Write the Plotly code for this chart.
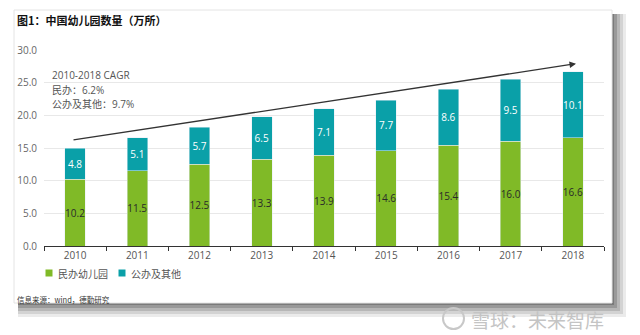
import plotly.graph_objects as go

years = ["2010", "2011", "2012", "2013", "2014", "2015", "2016", "2017", "2018"]
private_vals = [10.2, 11.5, 12.5, 13.3, 13.9, 14.6, 15.4, 16.0, 16.6]
public_vals = [4.8, 5.1, 5.7, 6.5, 7.1, 7.7, 8.6, 9.5, 10.1]
y_ticks = [0, 5, 10, 15, 20, 25, 30]
series_names = ["民办幼儿园", "公办及其他"]
cagr_lines = ["2010-2018 CAGR", "民办：6.2%", "公办及其他：9.7%"]

GREEN = "#80BA27"
TEAL = "#0AA0A8"
FONT = "Open Sans, Noto Sans CJK SC, sans-serif"
CJK = "Noto Sans CJK SC, sans-serif"

fig = go.Figure()
fig.add_trace(go.Bar(
    x=years, y=private_vals, name=series_names[0], marker_color=GREEN,
    text=[f"{v:.1f}" for v in private_vals], textposition="inside",
    insidetextanchor="middle", textangle=0, showlegend=False,
    textfont=dict(color="#2a2a2a", size=10, family=FONT), width=0.33,
))
fig.add_trace(go.Bar(
    x=years, y=public_vals, name=series_names[1], marker_color=TEAL,
    text=[f"{v:.1f}" for v in public_vals], textposition="inside",
    insidetextanchor="middle", textangle=0, showlegend=False,
    textfont=dict(color="white", size=10, family=FONT), width=0.33,
))

def px(x):
    return (x - 44) / 560

def py(y):
    return (246 - y) / 196

shapes = []
# card shadow
for i, op in enumerate([0.08, 0.10, 0.13, 0.16, 0.2]):
    d = 14 - i * 3
    shapes.append(dict(type="rect", xref="paper", yref="paper",
                       x0=px(18), x1=px(612 + d),
                       y0=py(303 + d), y1=py(14),
                       fillcolor=f"rgba(0,0,0,{op})", line_width=0, layer="below"))
shapes.append(dict(type="rect", xref="paper", yref="paper",
                   x0=px(14), x1=px(612),
                   y0=py(303), y1=py(10),
                   fillcolor="white", line=dict(color="#e4e4e4", width=1), layer="below"))
# legend squares
for cx, col in [(49, GREEN), (122, TEAL)]:
    shapes.append(dict(type="rect", xref="paper", yref="paper",
                       x0=px(cx - 3.5), x1=px(cx + 3.5), y0=py(276.5), y1=py(269.5),
                       fillcolor=col, line_width=0))
# watermark logo ring
shapes.append(dict(type="circle", xref="paper", yref="paper",
                   x0=px(443), x1=px(464), y0=py(329), y1=py(308),
                   fillcolor="rgba(0,0,0,0)", line=dict(color="#c8c8c8", width=2)))

fig.update_layout(
    width=640, height=335,
    margin=dict(l=44, r=36, t=50, b=89),
    paper_bgcolor="white", plot_bgcolor="rgba(0,0,0,0)",
    barmode="stack", bargap=0.67,
    font=dict(family=FONT, color="#666666", size=10),
    shapes=shapes,
    xaxis=dict(type="category", showgrid=False, showline=True, linecolor="#333333",
               linewidth=1, ticks="outside", tickson="boundaries", ticklen=4,
               tickcolor="#333333", tickfont=dict(size=10, color="#555555")),
    yaxis=dict(range=[0, 30], tickvals=y_ticks, ticktext=[f"{v:.1f}" for v in y_ticks],
               showgrid=True, gridcolor="#e8e8e8", gridwidth=1, zeroline=False,
               showline=False, tickfont=dict(size=10, color="#666666"), ticklabelstandoff=6),
    showlegend=False,
    uniformtext=dict(minsize=8, mode="show"),
)

annotations = [
    dict(xref="paper", yref="paper", x=px(15), y=py(20),
         xanchor="left", yanchor="middle", showarrow=False,
         text="<b>图1：中国幼儿园数量（万所）</b>",
         font=dict(size=11, color="#111111", family=CJK)),
]
for i, line in enumerate(cagr_lines):
    annotations.append(dict(xref="paper", yref="paper", x=px(50), y=py(75 + i * 14.5),
                            xanchor="left", yanchor="middle", showarrow=False,
                            text=line, font=dict(size=10, color="#555555", family=FONT)))
annotations += [
    dict(xref="paper", yref="paper", x=px(56), y=py(273),
         xanchor="left", yanchor="middle", showarrow=False,
         text=series_names[0], font=dict(size=10, color="#555555", family=CJK)),
    dict(xref="paper", yref="paper", x=px(129), y=py(273),
         xanchor="left", yanchor="middle", showarrow=False,
         text=series_names[1], font=dict(size=10, color="#555555", family=CJK)),
    dict(xref="paper", yref="paper", x=px(15), y=py(299),
         xanchor="left", yanchor="middle", showarrow=False,
         text="信息来源：wind，德勤研究",
         font=dict(size=7.5, color="#333333", family=CJK)),
    dict(xref="paper", yref="paper", x=px(606), y=py(319),
         xanchor="right", yanchor="middle", showarrow=False,
         text="雪球：未来智库",
         font=dict(size=19, color="#c4c4c4", family=CJK)),
    dict(x=8.05, y=27.9, ax=-0.05, ay=16.2, xref="x", yref="y", axref="x", ayref="y",
         text="", showarrow=True, arrowhead=2, arrowsize=1, arrowwidth=1.3,
         arrowcolor="#333333"),
]
fig.update_layout(annotations=annotations)

fig.write_html("out.html")
